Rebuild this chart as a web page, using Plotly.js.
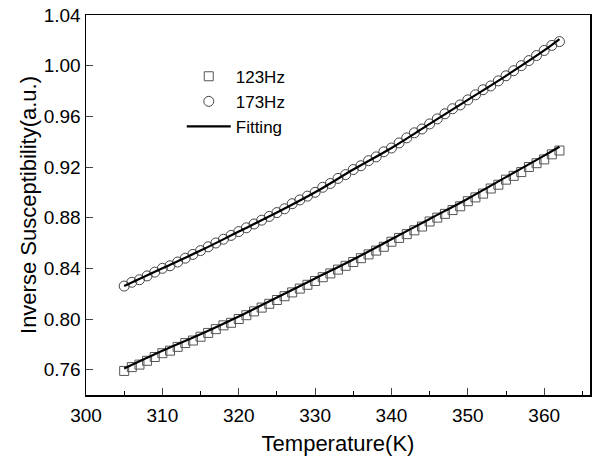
<!DOCTYPE html>
<html>
<head>
<meta charset="utf-8">
<script src="https://cdn.plot.ly/plotly-3.0.1.min.js"></script>
<style>html,body{margin:0;padding:0;background:#fff;}#chart{width:600px;height:464px;}</style>
</head>
<body>
<div id="chart"></div>
<script>
const temps = [305,306,307,308,309,310,311,312,313,314,315,316,317,318,319,320,321,322,323,324,325,326,327,328,329,330,331,332,333,334,335,336,337,338,339,340,341,342,343,344,345,346,347,348,349,350,351,352,353,354,355,356,357,358,359,360,361,362];
const hz123 = [0.759,0.762,0.764,0.767,0.770,0.773,0.775,0.778,0.781,0.783,0.786,0.789,0.792,0.795,0.797,0.800,0.803,0.806,0.809,0.812,0.815,0.818,0.821,0.824,0.827,0.830,0.833,0.836,0.839,0.842,0.845,0.848,0.851,0.854,0.857,0.861,0.864,0.867,0.870,0.873,0.877,0.880,0.883,0.886,0.889,0.893,0.896,0.899,0.903,0.906,0.910,0.913,0.916,0.920,0.923,0.926,0.930,0.933];
const hz173 = [0.826,0.829,0.831,0.834,0.837,0.840,0.842,0.845,0.848,0.851,0.854,0.857,0.860,0.863,0.866,0.869,0.872,0.875,0.878,0.881,0.884,0.887,0.891,0.894,0.897,0.900,0.904,0.907,0.911,0.914,0.918,0.921,0.925,0.928,0.932,0.935,0.939,0.943,0.947,0.950,0.954,0.958,0.962,0.966,0.969,0.973,0.977,0.981,0.984,0.988,0.992,0.996,1.000,1.004,1.008,1.012,1.016,1.019];
const fitTemps = [305,310,315,320,325,330,335,340,345,350,355,360,362];
const fit123 = [0.761,0.775,0.788,0.802,0.817,0.832,0.847,0.863,0.879,0.895,0.912,0.929,0.936];
const fit173 = [0.826,0.840,0.854,0.869,0.884,0.900,0.918,0.935,0.954,0.973,0.992,1.012,1.021];
const yTicks = [0.76,0.80,0.84,0.88,0.92,0.96,1.00,1.04];
const yTickText = ['0.76','0.80','0.84','0.88','0.92','0.96','1.00','1.04'];
const xTicks = [300,310,320,330,340,350,360];

const font = 'Arial, "Liberation Sans", sans-serif';
const traces = [
  {x: temps, y: hz123, name: '123Hz', mode: 'markers', type: 'scatter',
   marker: {symbol: 'square-open', size: 9, color: '#555', line: {width: 1}}},
  {x: temps, y: hz173, name: '173Hz', mode: 'markers', type: 'scatter',
   marker: {symbol: 'circle-open', size: 10, color: '#444', line: {width: 1}}},
  {x: fitTemps, y: fit123, name: 'Fitting', mode: 'lines', type: 'scatter',
   line: {color: '#000', width: 2.2, shape: 'spline'}},
  {x: fitTemps, y: fit173, name: 'Fitting', mode: 'lines', type: 'scatter', showlegend: false,
   line: {color: '#000', width: 2.2, shape: 'spline'}}
];
const layout = {
  width: 600, height: 464,
  margin: {l: 86, r: 10, t: 15, b: 69},
  paper_bgcolor: '#fff', plot_bgcolor: '#fff',
  font: {family: font, color: '#000'},
  showlegend: true,
  legend: {x: 0.19, y: 0.885, xanchor: 'left', yanchor: 'top', bgcolor: 'rgba(0,0,0,0)',
           font: {size: 17, family: font}, tracegroupgap: 0, itemwidth: 44},
  xaxis: {range: [300, 366], tickvals: xTicks, ticks: 'inside', ticklen: 7, tickwidth: 1,
          showline: true, linecolor: '#000', linewidth: 1.5, mirror: true, showgrid: false, zeroline: false,
          tickfont: {size: 19, family: font}, ticklabelstandoff: 3,
          minor: {dtick: 5, tick0: 300, ticks: 'inside', ticklen: 4, tickcolor: '#000', showgrid: false},
          title: {text: 'Temperature(K)', font: {size: 22, family: font}, standoff: 10}},
  yaxis: {range: [0.74, 1.04], tickvals: yTicks, ticktext: yTickText, ticks: 'inside', ticklen: 7, tickwidth: 1,
          showline: true, linecolor: '#000', linewidth: 1.5, mirror: true, showgrid: false, zeroline: false,
          tickfont: {size: 19, family: font},
          title: {text: 'Inverse Susceptibility(a.u.)', font: {size: 22, family: font}, standoff: 1}}
};
Plotly.newPlot('chart', traces, layout, {displayModeBar: false, staticPlot: true});
</script>
</body>
</html>
